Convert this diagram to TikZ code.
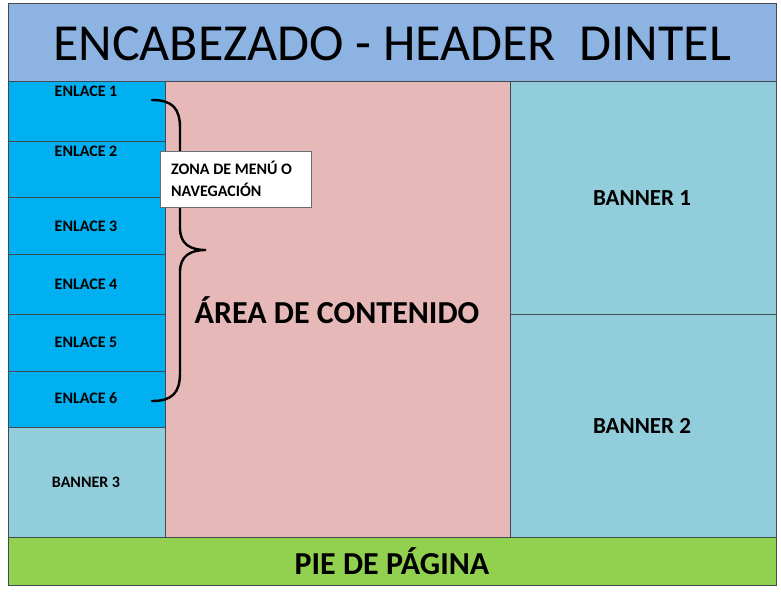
\documentclass[tikz,border=0pt]{standalone}
\usepackage{fontspec}
\setmainfont{Carlito}
\definecolor{hdr}{HTML}{8DB3E2}
\definecolor{lnk}{HTML}{00B0F0}
\definecolor{bnr}{HTML}{92CDDC}
\definecolor{cnt}{HTML}{E6B8B7}
\definecolor{ftr}{HTML}{92D050}
\definecolor{edge}{HTML}{404A50}
\begin{document}
\begin{tikzpicture}[x=1pt,y=-1pt,
  region/.style={draw=edge,line width=0.9pt,inner sep=0pt,outer sep=0pt},
  small/.style={font=\bfseries\fontsize{16}{18}\selectfont},
  label/.style={inner sep=0pt}]
\useasboundingbox[fill=white] (0,0) rectangle (781,592);
% regions
\path[region,fill=hdr] (8,3) rectangle (776,81);
\node[label,font=\fontsize{52}{56}\selectfont] (header) at (392,44) {ENCABEZADO - HEADER\ \ DINTEL};
\path[region,fill=cnt] (165,81) rectangle (510,537);
\path[region,fill=bnr] (510,81) rectangle (776,314);
\path[region,fill=bnr] (510,314) rectangle (776,537);
\path[region,fill=lnk] (8,81) rectangle (165,141);
\path[region,fill=lnk] (8,141) rectangle (165,197);
\path[region,fill=lnk] (8,197) rectangle (165,254);
\path[region,fill=lnk] (8,254) rectangle (165,314);
\path[region,fill=lnk] (8,314) rectangle (165,371);
\path[region,fill=lnk] (8,371) rectangle (165,427);
\path[region,fill=bnr] (8,427) rectangle (165,537);
\path[region,fill=ftr] (8,537) rectangle (776,585);
% labels
\node[label,small] (e1) at (86,91) {ENLACE 1};
\node[label,small] (e2) at (86,151) {ENLACE 2};
\node[label,small] (e3) at (86,226) {ENLACE 3};
\node[label,small] (e4) at (86,284) {ENLACE 4};
\node[label,small] (e5) at (86,342) {ENLACE 5};
\node[label,small] (e6) at (86,398) {ENLACE 6};
\node[label,small] (b3) at (86,482) {BANNER 3};
\node[label,font=\bfseries\fontsize{23}{25}\selectfont] (b1) at (642,198) {BANNER 1};
\node[label,font=\bfseries\fontsize{23}{25}\selectfont] (b2) at (642,426) {BANNER 2};
\node[label,font=\bfseries\fontsize{32}{34}\selectfont] (area) at (337,310) {ÁREA DE CONTENIDO};
\node[label,font=\bfseries\fontsize{32}{34}\selectfont] (pie) at (392,561) {PIE DE PÁGINA};
% brace
\coordinate (btop) at (152,100);
\coordinate (btip) at (206,250);
\coordinate (bbot) at (152,401);
\draw[line width=2.4pt,line cap=round]
  (btop) .. controls (172,100) and (180,108) .. (180,128)
  -- (180,228) .. controls (180,244) and (190,250) .. (btip)
  .. controls (190,250) and (180,256) .. (180,272)
  -- (180,373) .. controls (180,393) and (172,401) .. (bbot);
% callout
\node[draw=edge!80,line width=0.8pt,fill=white,minimum width=151pt,minimum height=56pt,
  inner sep=0pt,anchor=north west] (zona) at (160,151) {};
\node[label,anchor=west,align=left,font=\bfseries\fontsize{16}{22}\selectfont] (zonatxt) at (171,179) {ZONA DE MENÚ O\\NAVEGACIÓN};
\end{tikzpicture}
\end{document}
